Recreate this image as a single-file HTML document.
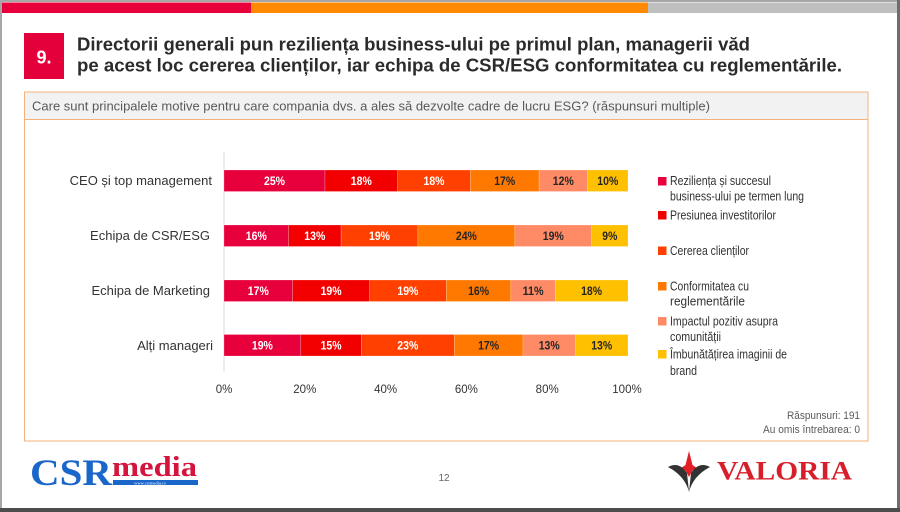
<!DOCTYPE html>
<html><head><meta charset="utf-8"><style>
html,body{margin:0;padding:0;background:#8c8c8c;}
svg{display:block;}
text{font-family:"Liberation Sans",Arial,sans-serif;}
.serif{font-family:"Liberation Serif","Times New Roman",serif;}
</style></head><body>
<svg width="900" height="512" viewBox="0 0 900 512" xmlns="http://www.w3.org/2000/svg">
<!-- frame -->
<rect x="0" y="0" width="900" height="512" fill="#a6a6a6"/>
<rect x="897" y="0" width="3" height="512" fill="#6d6d6d"/>
<rect x="0" y="508" width="900" height="4" fill="#4d4d4d"/>
<rect x="2" y="2" width="895" height="506" fill="#ffffff"/>
<!-- top bar -->
<rect x="2" y="2.5" width="249" height="10.5" fill="#E8003D"/>
<rect x="251" y="2.5" width="397" height="10.5" fill="#FF8A00"/>
<rect x="648" y="2.5" width="249" height="10.5" fill="#BFBFBF"/>
<!-- number box -->
<rect x="24" y="33" width="40" height="46" fill="#E4003B"/>
<text x="44" y="63.5" font-size="18" font-weight="bold" fill="#fff" text-anchor="middle">9.</text>
<!-- title -->
<text x="77" y="50.5" font-size="18.5" font-weight="bold" fill="#2b2b2b" textLength="673" lengthAdjust="spacingAndGlyphs">Directorii generali pun reziliența business-ului pe primul plan, managerii văd</text>
<text x="77" y="71.5" font-size="18.5" font-weight="bold" fill="#2b2b2b" textLength="765" lengthAdjust="spacingAndGlyphs">pe acest loc cererea clienților, iar echipa de CSR/ESG conformitatea cu reglementările.</text>
<!-- box -->
<rect x="24.5" y="92" width="843.5" height="349" fill="#fff" stroke="#F4B27A" stroke-width="1"/>
<rect x="25" y="92.5" width="842.5" height="27" fill="#F2F2F2"/>
<line x1="24.5" y1="119.5" x2="868" y2="119.5" stroke="#F4B27A" stroke-width="1"/>
<text x="32" y="110.5" font-size="13" fill="#595959" textLength="678" lengthAdjust="spacingAndGlyphs">Care sunt principalele motive pentru care compania dvs. a ales să dezvolte cadre de lucru ESG? (răspunsuri multiple)</text>

<!-- axis -->
<line x1="224" y1="152" x2="224" y2="372" stroke="#D9D9D9" stroke-width="1"/>

<!-- category labels -->
<g font-size="13" fill="#333" text-anchor="end">
<text x="212" y="185">CEO și top management</text>
<text x="210" y="240">Echipa de CSR/ESG</text>
<text x="210" y="295">Echipa de Marketing</text>
<text x="213" y="350">Alți manageri</text>
</g>

<!-- bars: scale 4.04 px per % from x=224 -->
<g stroke="#ffffff" stroke-opacity="0.35" stroke-width="0.6">
<!-- row1 25,18,18,17,12,10 y=170 -->
<rect x="224" y="170" width="101" height="21.5" fill="#E8003D"/>
<rect x="325" y="170" width="72.7" height="21.5" fill="#F20000"/>
<rect x="397.7" y="170" width="72.7" height="21.5" fill="#FF4000"/>
<rect x="470.4" y="170" width="68.7" height="21.5" fill="#FF7800"/>
<rect x="539.1" y="170" width="48.5" height="21.5" fill="#FF8A66"/>
<rect x="587.6" y="170" width="40.4" height="21.5" fill="#FFC000"/>
<!-- row2 16,13,19,24,19,9 y=225 -->
<rect x="224" y="225" width="64.6" height="21.5" fill="#E8003D"/>
<rect x="288.6" y="225" width="52.5" height="21.5" fill="#F20000"/>
<rect x="341.1" y="225" width="76.8" height="21.5" fill="#FF4000"/>
<rect x="417.9" y="225" width="97" height="21.5" fill="#FF7800"/>
<rect x="514.9" y="225" width="76.8" height="21.5" fill="#FF8A66"/>
<rect x="591.7" y="225" width="36.3" height="21.5" fill="#FFC000"/>
<!-- row3 17,19,19,16,11,18 y=280 -->
<rect x="224" y="280" width="68.7" height="21.5" fill="#E8003D"/>
<rect x="292.7" y="280" width="76.8" height="21.5" fill="#F20000"/>
<rect x="369.5" y="280" width="76.8" height="21.5" fill="#FF4000"/>
<rect x="446.3" y="280" width="64.6" height="21.5" fill="#FF7800"/>
<rect x="510.9" y="280" width="44.4" height="21.5" fill="#FF8A66"/>
<rect x="555.3" y="280" width="72.7" height="21.5" fill="#FFC000"/>
<!-- row4 19,15,23,17,13,13 y=334.5 -->
<rect x="224" y="334.5" width="76.8" height="21.5" fill="#E8003D"/>
<rect x="300.8" y="334.5" width="60.6" height="21.5" fill="#F20000"/>
<rect x="361.4" y="334.5" width="92.9" height="21.5" fill="#FF4000"/>
<rect x="454.3" y="334.5" width="68.7" height="21.5" fill="#FF7800"/>
<rect x="523" y="334.5" width="52.5" height="21.5" fill="#FF8A66"/>
<rect x="575.5" y="334.5" width="52.5" height="21.5" fill="#FFC000"/>
</g>

<!-- bar labels -->
<g font-size="12" font-weight="bold" text-anchor="middle" lengthAdjust="spacingAndGlyphs">
<g fill="#ffffff">
<text x="274.5" y="185" textLength="21" lengthAdjust="spacingAndGlyphs">25%</text>
<text x="361.3" y="185" textLength="21" lengthAdjust="spacingAndGlyphs">18%</text>
<text x="434" y="185" textLength="21" lengthAdjust="spacingAndGlyphs">18%</text>
<text x="256.3" y="240" textLength="21" lengthAdjust="spacingAndGlyphs">16%</text>
<text x="314.8" y="240" textLength="21" lengthAdjust="spacingAndGlyphs">13%</text>
<text x="379.5" y="240" textLength="21" lengthAdjust="spacingAndGlyphs">19%</text>
<text x="258.3" y="295" textLength="21" lengthAdjust="spacingAndGlyphs">17%</text>
<text x="331.1" y="295" textLength="21" lengthAdjust="spacingAndGlyphs">19%</text>
<text x="407.9" y="295" textLength="21" lengthAdjust="spacingAndGlyphs">19%</text>
<text x="262.4" y="349.5" textLength="21" lengthAdjust="spacingAndGlyphs">19%</text>
<text x="331.1" y="349.5" textLength="21" lengthAdjust="spacingAndGlyphs">15%</text>
<text x="407.8" y="349.5" textLength="21" lengthAdjust="spacingAndGlyphs">23%</text>
</g>
<g fill="#262626">
<text x="504.7" y="185" textLength="21" lengthAdjust="spacingAndGlyphs">17%</text>
<text x="563.3" y="185" textLength="21" lengthAdjust="spacingAndGlyphs">12%</text>
<text x="607.8" y="185" textLength="21" lengthAdjust="spacingAndGlyphs">10%</text>
<text x="466.4" y="240" textLength="21" lengthAdjust="spacingAndGlyphs">24%</text>
<text x="553.3" y="240" textLength="21" lengthAdjust="spacingAndGlyphs">19%</text>
<text x="609.8" y="240" textLength="15" lengthAdjust="spacingAndGlyphs">9%</text>
<text x="478.6" y="295" textLength="21" lengthAdjust="spacingAndGlyphs">16%</text>
<text x="533.1" y="295" textLength="21" lengthAdjust="spacingAndGlyphs">11%</text>
<text x="591.6" y="295" textLength="21" lengthAdjust="spacingAndGlyphs">18%</text>
<text x="488.6" y="349.5" textLength="21" lengthAdjust="spacingAndGlyphs">17%</text>
<text x="549.2" y="349.5" textLength="21" lengthAdjust="spacingAndGlyphs">13%</text>
<text x="601.7" y="349.5" textLength="21" lengthAdjust="spacingAndGlyphs">13%</text>
</g>
</g>

<!-- tick labels -->
<g font-size="11.5" fill="#333" text-anchor="middle">
<text x="224" y="393">0%</text>
<text x="304.8" y="393">20%</text>
<text x="385.6" y="393">40%</text>
<text x="466.4" y="393">60%</text>
<text x="547.2" y="393">80%</text>
<text x="627" y="393">100%</text>
</g>

<!-- legend -->
<rect x="658" y="177" width="8.5" height="8.5" fill="#E8003D"/>
<rect x="658" y="211" width="8.5" height="8.5" fill="#F20000"/>
<rect x="658" y="246.5" width="8.5" height="8.5" fill="#FF4000"/>
<rect x="658" y="282" width="8.5" height="8.5" fill="#FF7800"/>
<rect x="658" y="317" width="8.5" height="8.5" fill="#FF8A66"/>
<rect x="658" y="350" width="8.5" height="8.5" fill="#FFC000"/>
<g font-size="12.5" fill="#333">
<text x="670" y="185" textLength="101" lengthAdjust="spacingAndGlyphs">Reziliența și succesul</text>
<text x="670" y="200.5" textLength="134" lengthAdjust="spacingAndGlyphs">business-ului pe termen lung</text>
<text x="670" y="219.5" textLength="106" lengthAdjust="spacingAndGlyphs">Presiunea investitorilor</text>
<text x="670" y="255" textLength="79" lengthAdjust="spacingAndGlyphs">Cererea clienților</text>
<text x="670" y="290.5" textLength="79" lengthAdjust="spacingAndGlyphs">Conformitatea cu</text>
<text x="670" y="305.5" textLength="75" lengthAdjust="spacingAndGlyphs">reglementările</text>
<text x="670" y="325.5" textLength="108" lengthAdjust="spacingAndGlyphs">Impactul pozitiv asupra</text>
<text x="670" y="341" textLength="51" lengthAdjust="spacingAndGlyphs">comunității</text>
<text x="670" y="358.5" textLength="117" lengthAdjust="spacingAndGlyphs">Îmbunătățirea imaginii de</text>
<text x="670" y="375" textLength="27" lengthAdjust="spacingAndGlyphs">brand</text>
</g>

<!-- responses -->
<g font-size="11" fill="#595959" text-anchor="end">
<text x="860" y="419" textLength="73" lengthAdjust="spacingAndGlyphs">Răspunsuri: 191</text>
<text x="860" y="433" textLength="97" lengthAdjust="spacingAndGlyphs">Au omis întrebarea: 0</text>
</g>

<!-- page number -->
<text x="444" y="481" font-size="10" fill="#666" text-anchor="middle">12</text>

<!-- CSR media logo -->
<text class="serif" x="30" y="485" font-size="37" font-weight="bold" fill="#1A66C9" textLength="82" lengthAdjust="spacingAndGlyphs">CSR</text>
<text class="serif" x="112" y="476" font-size="28" font-weight="bold" fill="#D4143C" textLength="85" lengthAdjust="spacingAndGlyphs">media</text>
<rect x="113" y="480" width="85" height="5" fill="#1A66C9"/>
<text class="serif" x="150" y="484.3" font-size="4.5" fill="#ffffff" text-anchor="middle">www.csrmedia.ro</text>

<!-- VALORIA logo -->
<path d="M689,451 L692.5,465 L697,468 L692.5,470.5 L689,477 L685.5,470.5 L681,468 L685.5,465 Z" fill="#E21F26"/>
<path d="M668,467 Q679,461 687,473 L689,492 Q685,476 668,467 Z" fill="#333"/>
<path d="M710,467 Q699,461 691,473 L689,492 Q693,476 710,467 Z" fill="#333"/>
<text class="serif" x="717" y="479.5" font-size="26" font-weight="bold" fill="#D71F2B" textLength="135" lengthAdjust="spacingAndGlyphs">VALORIA</text>
</svg>
</body></html>
